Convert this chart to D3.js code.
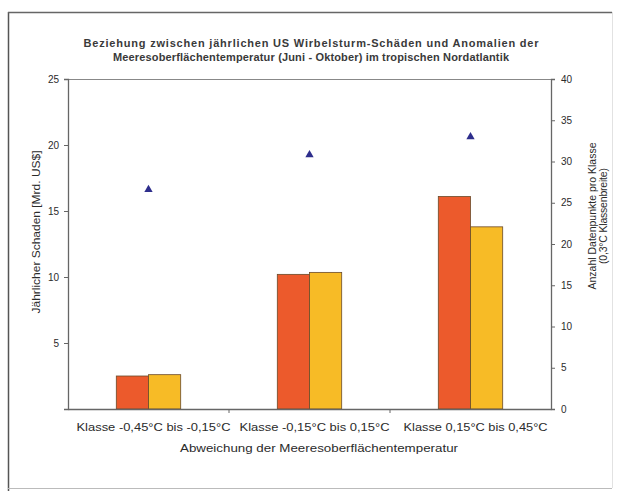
<!DOCTYPE html>
<html><head><meta charset="utf-8">
<script src="https://cdn.jsdelivr.net/npm/d3@7"></script>
<style>
html,body{margin:0;padding:0;background:#fff;}
svg{display:block;font-family:"Liberation Sans",Arial,sans-serif;}
</style></head>
<body>
<svg id="c" width="623" height="491"></svg>
<script>
const categories = ["Klasse -0,45°C bis -0,15°C", "Klasse -0,15°C bis 0,15°C", "Klasse 0,15°C bis 0,45°C"];
const seriesNames = ["Schaden A", "Schaden B"];
const damageRed = [2.5, 10.2, 16.1];
const damageYellow = [2.6, 10.35, 13.8];
const pointCounts = [26.6, 30.8, 33.0];
const leftTicks = [5, 10, 15, 20, 25];
const rightTicks = [0, 5, 10, 15, 20, 25, 30, 35, 40];
const titleLines = ["Beziehung zwischen jährlichen US Wirbelsturm-Schäden und Anomalien der",
                    "Meeresoberflächentemperatur (Juni - Oktober) im tropischen Nordatlantik"];
const yLabel = "Jährlicher Schaden [Mrd. US$]";
const y2Labels = ["Anzahl Datenpunkte pro Klasse", "(0,3°C Klassenbreite)"];
const xLabel = "Abweichung der Meeresoberflächentemperatur";

const svg = d3.select("#c");
const L = 68, R = 551, T = 79, B = 409;
const txt = "#2b2b2b";

// frame
svg.append("line").attr("x1",8.5).attr("y1",12).attr("x2",8.5).attr("y2",491).attr("stroke","#555").attr("stroke-width",1.5);
svg.append("line").attr("x1",8).attr("y1",12.5).attr("x2",612).attr("y2",12.5).attr("stroke","#666").attr("stroke-width",1.5);
svg.append("line").attr("x1",612.5).attr("y1",12).attr("x2",612.5).attr("y2",488).attr("stroke","#e2e2e2").attr("stroke-width",1);
svg.append("line").attr("x1",8).attr("y1",488.5).attr("x2",612).attr("y2",488.5).attr("stroke","#bbb").attr("stroke-width",1);

const x = d3.scaleBand().domain(categories).range([L, R]).padding(0);
const bw = x.bandwidth();
const x1 = d3.scaleBand().domain(seriesNames).range([bw*0.3, bw*0.7]).padding(0);
const yL = d3.scaleLinear().domain([0,25]).range([B, T]);
const yR = d3.scaleLinear().domain([0,40]).range([B, T]);

// plot box top
svg.append("line").attr("x1",L).attr("x2",R).attr("y1",T+0.5).attr("y2",T+0.5).attr("stroke","#888");

// bars
const colors = {"Schaden A":"#ec5a2c","Schaden B":"#f7bb26"};
const rows = categories.map((c,i)=>({c, vals:[{s:seriesNames[0],v:damageRed[i]},{s:seriesNames[1],v:damageYellow[i]}]}));
const g = svg.append("g");
rows.forEach(r=>{
  g.selectAll(null).data(r.vals).enter().append("rect")
    .attr("x", d=>x(r.c)+x1(d.s))
    .attr("y", d=>yL(d.v))
    .attr("width", x1.bandwidth())
    .attr("height", d=>B-yL(d.v))
    .attr("fill", d=>colors[d.s])
    .attr("stroke","#6a4a2a").attr("stroke-width",0.8);
});

// triangles
svg.selectAll(".tri").data(pointCounts).enter().append("path")
  .attr("d", d3.symbol().type(d3.symbolTriangle).size(30))
  .attr("transform",(d,i)=>`translate(${x(categories[i])+bw/2},${yR(d)})`)
  .attr("fill","#2e2e8c");

// axes
const axL = svg.append("g").attr("transform",`translate(${L},0)`)
  .call(d3.axisLeft(yL).tickValues(leftTicks).tickSize(4).tickPadding(5));
const axR = svg.append("g").attr("transform",`translate(${R},0)`)
  .call(d3.axisRight(yR).tickValues(rightTicks).tickSize(4).tickPadding(6));
const axB = svg.append("g").attr("transform",`translate(0,${B})`)
  .call(d3.axisBottom(x).tickSize(0).tickPadding(14));
svg.selectAll(".bt").data(categories.slice(1)).enter().append("line")
  .attr("x1",d=>x(d)).attr("x2",d=>x(d)).attr("y1",B).attr("y2",B+4).attr("stroke","#666");
[axL,axR,axB].forEach(a=>{
  a.selectAll(".domain").attr("stroke","#666").attr("stroke-width",1.3);
  a.selectAll(".tick line").attr("stroke","#666");
  a.selectAll("text").attr("fill",txt).attr("font-size",10);
});
const tickW = [154, 150, 144];
axB.selectAll("text").attr("font-size",11.5).attr("dx",5)
  .attr("textLength",(d,i)=>tickW[i]).attr("lengthAdjust","spacingAndGlyphs");

// titles
const titleW = [455, 396];
svg.append("g").selectAll("text").data(titleLines).enter().append("text")
  .attr("x",311).attr("y",(d,i)=>47+i*14).attr("text-anchor","middle")
  .attr("font-size",11).attr("font-weight","bold").attr("fill","#3a3a3a")
  .attr("textLength",(d,i)=>titleW[i]).attr("lengthAdjust","spacing").text(d=>d);

svg.append("text").attr("transform","translate(40,232) rotate(-90)").attr("text-anchor","middle")
  .attr("font-size",11).attr("fill",txt)
  .attr("textLength",163).attr("lengthAdjust","spacingAndGlyphs").text(yLabel);
const y2W = [147, 96];
svg.append("g").selectAll("text").data(y2Labels).enter().append("text")
  .attr("transform",(d,i)=>`translate(${596+i*11},216) rotate(-90)`).attr("text-anchor","middle")
  .attr("font-size",10.5).attr("fill",txt)
  .attr("textLength",(d,i)=>y2W[i]).attr("lengthAdjust","spacing").text(d=>d);
svg.append("text").attr("x",319).attr("y",452).attr("text-anchor","middle")
  .attr("font-size",11.5).attr("fill",txt)
  .attr("textLength",278).attr("lengthAdjust","spacingAndGlyphs").text(xLabel);
</script>
</body></html>
